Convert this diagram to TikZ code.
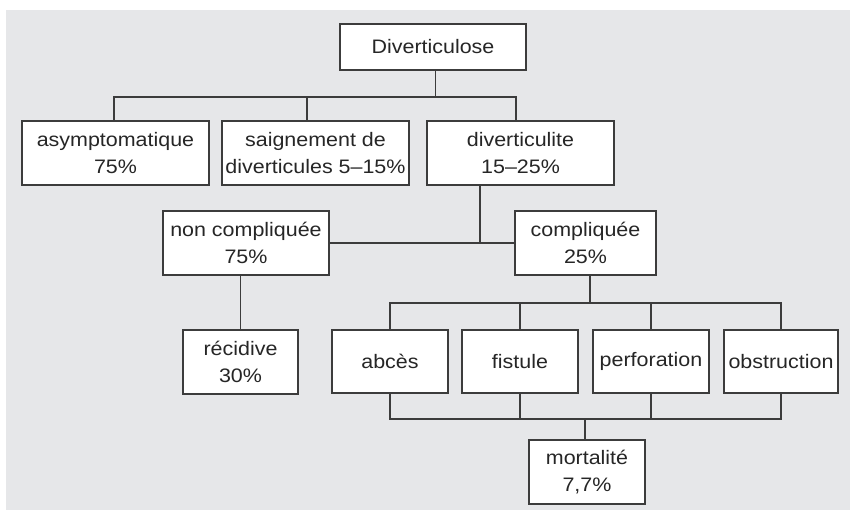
\documentclass[tikz,border=0pt]{standalone}
\usepackage{fontspec}
\setmainfont{Liberation Sans}[FakeStretch=1.1]
\definecolor{bgc}{HTML}{E6E7E9}
\definecolor{linec}{HTML}{3C3C3C}
\definecolor{textc}{HTML}{262626}
\begin{document}
\begin{tikzpicture}[x=1pt,y=-1pt,
  box/.style={draw=linec, fill=white, line width=1.3pt, inner sep=0pt,
    align=center, text=textc, font=\fontsize{19.5}{27}\selectfont},
  conn/.style={draw=linec, line width=1.3pt}]
\useasboundingbox (0,0) rectangle (850,510);
\fill[bgc] (6,10) rectangle (850,510);
% nodes
\node[box, minimum width=186pt, minimum height=46pt] (root) at (433,47) {Diverticulose};
\node[box, minimum width=187pt, minimum height=64pt] (asym) at (115.5,153) {asymptomatique\\75\%};
\node[box, minimum width=187pt, minimum height=64pt] (saign) at (315.5,153) {saignement de\\diverticules 5–15\%};
\node[box, minimum width=187pt, minimum height=64pt] (dlite) at (520.5,153) {diverticulite\\15–25\%};
\node[box, minimum width=166pt, minimum height=64pt] (noncomp) at (246,243) {non compliquée\\75\%};
\node[box, minimum width=141pt, minimum height=64pt] (comp) at (585.5,243) {compliquée\\25\%};
\node[box, minimum width=115pt, minimum height=64pt] (recid) at (240.5,362) {récidive\\30\%};
\node[box, minimum width=116pt, minimum height=63pt] (abces) at (390,361.5) {abcès};
\node[box, minimum width=116pt, minimum height=63pt] (fist) at (520,361.5) {fistule};
\node[box, minimum width=116pt, minimum height=63pt] (perf) at (651,361.5) {perforation};
\node[box, minimum width=114pt, minimum height=63pt] (obst) at (781,361.5) {obstruction};
\node[box, minimum width=116pt, minimum height=64pt] (mort) at (587,472) {mortalité\\7,7\%};
% junction coordinates
\coordinate (b1) at (435.5,97);
\coordinate (j2) at (480,243);
\coordinate (b3) at (590,303);
\coordinate (b4) at (585,419);
% connectors
\draw[conn] (root.south -| b1) -- (b1);
\draw[conn] ([xshift=-1.5pt]asym.north) |- (b1) -| ([xshift=-4.5pt]dlite.north);
\draw[conn] ([xshift=-8.5pt]saign.north) -- ([xshift=-8.5pt]saign.north |- b1);
\draw[conn] (dlite.south -| j2) -- (j2);
\draw[conn] (noncomp.east) -- (comp.west);
\draw[conn] (noncomp.south -| recid.north) -- (recid.north);
\draw[conn] (comp.south -| b3) -- (b3);
\draw[conn] (abces.north) |- (b3) -| (obst.north);
\draw[conn] (fist.north) -- (fist.north |- b3);
\draw[conn] (perf.north) -- (perf.north |- b3);
\draw[conn] (abces.south) |- (b4) -| (obst.south);
\draw[conn] (fist.south) -- (fist.south |- b4);
\draw[conn] (perf.south) -- (perf.south |- b4);
\draw[conn] (b4) -- (mort.north -| b4);
\end{tikzpicture}
\end{document}
